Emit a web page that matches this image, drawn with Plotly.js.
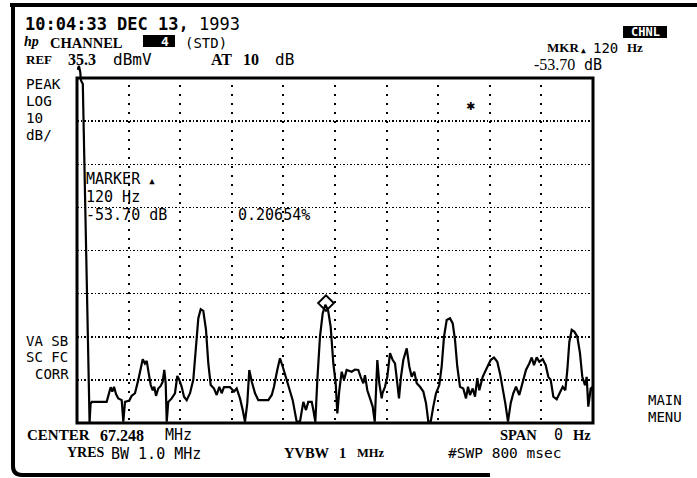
<!DOCTYPE html>
<html><head><meta charset="utf-8">
<script src="https://cdn.plot.ly/plotly-3.0.1.min.js"></script>
<style>html,body{margin:0;padding:0;background:#fff;}#chart{width:697px;height:478px;}</style>
</head><body><div id="chart"></div>
<script>
// Zero-span sweep: time (ms) vs level (dBmV)
const timeMs = [1,3,5,6,9,11,13,16,18,19,
19.5,21,23,46,50.1,52.2,54.7,57.4,60.5,64,
69.3,71.8,74.4,81.1,84.8,89.9,95,98.8,101.9,105.4,
108.1,111.2,114.3,117.4,119.8,122.5,126,129.8,132.9,135.3,
137.5,139.1,141.5,146.8,151.9,155.5,158.6,162.3,165.9,170.1,
175.2,180.3,184.5,188.1,191.8,195.8,200,203.6,207.3,212.4,
216.6,220.6,224.3,227.9,237.2,243.4,247.6,252.7,256.9,260.5,
264,267.1,270.9,276,281.1,296.6,301.9,305.4,310.5,314.7,
318.9,324,329.2,334.4,340.6,345.7,350.9,355,358.6,363.9,
366.4,369.5,372.6,376.7,380.9,385,389.2,393.3,397.4,401.1,
403.6,406.7,410.4,414,418.1,425.9,431,436.1,439.8,443.9,
446.5,450.1,454.3,458.4,461.6,463.6,465.6,468.7,472.4,473.6,
477.5,481.1,485.3,489.5,493,496.6,499.2,502.3,505.9,511.2,
515.2,518.9,522.9,526.7,531.8,536.9,541.1,544.7,548.4,552.4,
556.6,561.7,565.4,569,573.2,578.3,582.5,586.1,589.6,593.8,
598.9,603.1,606.2,609.3,613.5,617.1,620.6,623.7,629,635.2,
641.4,646.5,651.6,655.8,660,664,668.2,672.4,676.4,680.6,
685.7,691,696.1,701.2,705,708.5,712.7,716.8,722,726.7,
730.7,734.4,738.5,743.7,748.8,753,757.1,760.2,763.3,767,
771,775.7,779.8,783.4,787.6,790.2,792.7,796.4,799.5,800];
const levelDbmv = [37.2,38.1,36.7,34.8,33.9,18.6,0.1,-16.2,-34.7,-41.7,
-44.5,-40.3,-39.8,-39.8,-37.8,-36.4,-37.4,-36.3,-38.0,-39.0,
-39.4,-44.4,-39.8,-39.5,-38.4,-37.8,-34.7,-31.6,-29.9,-30.9,
-30.3,-33.2,-35.9,-37.1,-36.3,-38.4,-36.7,-36.1,-35.1,-32.4,
-35.5,-44.4,-39.8,-39.0,-37.8,-33.8,-34.7,-36.3,-38.6,-39.4,
-37.8,-34.7,-26.2,-20.4,-18.3,-18.7,-23.1,-30.9,-35.9,-36.7,
-38.2,-36.3,-37.8,-36.4,-36.4,-37.4,-36.7,-39.0,-41.7,-44.4,
-40.1,-32.4,-35.1,-37.8,-39.4,-39.4,-38.2,-36.3,-32.4,-29.7,
-31.6,-34.0,-36.7,-39.4,-44.4,-44.4,-39.8,-41.7,-39.8,-39.8,
-41.7,-44.4,-34.7,-24.7,-19.3,-17.3,-18.5,-22.4,-30.9,-35.5,
-42.5,-37.1,-32.8,-34.7,-32.4,-32.8,-32.3,-32.4,-34.0,-35.5,
-33.6,-37.1,-39.0,-40.9,-44.4,-34.7,-30.1,-35.5,-39.0,-37.8,
-36.3,-34.0,-28.5,-30.1,-30.9,-35.5,-39.0,-34.0,-30.1,-27.4,
-31.6,-34.0,-32.8,-35.5,-36.3,-37.4,-40.1,-44.4,-44.4,-40.9,
-37.8,-35.9,-31.6,-24.7,-20.8,-20.4,-21.6,-25.5,-31.6,-36.3,
-36.7,-39.0,-36.3,-38.2,-36.7,-38.6,-34.3,-37.1,-34.0,-32.0,
-30.1,-29.5,-30.5,-33.2,-36.3,-40.1,-44.4,-40.1,-37.8,-36.3,
-38.2,-35.5,-32.4,-30.9,-29.5,-31.3,-29.5,-30.5,-29.9,-31.3,
-34.0,-34.7,-38.6,-39.2,-37.8,-36.3,-37.1,-32.4,-25.9,-23.1,
-23.5,-24.7,-28.5,-34.0,-35.9,-34.0,-40.9,-36.7,-36.3,-39.8];
const markerTimeMs = [386];
const markerLevelDbmv = [-16.9];
const refLevel = 35.3;          // dBmV, top graticule
const bottomLevel = -44.7;      // dBmV, bottom graticule (10 dB/div x 8)
const sweepMs = 800;
const xGridTicks = [80,160,240,320,400,480,560,640,720];
const yGridTicks = [25.3,15.3,5.3,-4.7,-14.7,-24.7,-34.7];

// layout geometry (pixels)
const L = 77, R = 593, T = 58, B = 423, BOXTOP = 78;
const px = x => (x - L) / (R - L);
const py = y => (B - y) / (B - T);
const yTop = refLevel + (BOXTOP - T) * (refLevel - bottomLevel) / (B - BOXTOP);

const mono = "DejaVu Sans Mono", serif = "Liberation Serif";
function ann(text, x, y, size, family, extra) {
  return Object.assign({text: text, xref: 'paper', yref: 'paper', x: px(x), y: py(y),
    xanchor: 'left', yanchor: 'middle', showarrow: false, borderpad: 0,
    font: {family: family, size: size, color: 'black'}}, extra || {});
}

const annotations = [
  ann('<b>10:04:33 DEC 13,</b> 1993', 24, 24, 17, mono),
  ann('<b><i>hp</i></b>', 23, 42, 14, serif),
  ann('<b>CHANNEL</b>', 49, 42.5, 14.5, serif),
  ann('<b>4</b>', 160, 42, 13, mono, {font: {family: mono, size: 13, color: 'white'}}),
  ann('(STD)', 184, 42.5, 14, mono),
  ann('<b>REF</b>', 25, 60, 13, serif),
  ann('<b>35.3</b>', 67, 60, 16, serif),
  ann('dBmV', 112, 60, 16, mono),
  ann('<b>AT</b>', 210, 60, 16, serif),
  ann('<b>10</b>', 242, 60, 16, serif),
  ann('dB', 274, 60, 16, mono),
  ann('<b>MKR</b>', 546, 48, 13, serif),
  ann('▲', 580, 50, 8, mono),
  ann('120', 592, 47.5, 14, mono),
  ann('<b>Hz</b>', 626, 48, 13, serif),
  ann('-53.70', 533, 64.5, 16, serif),
  ann('dB', 583, 65, 15, mono),
  ann('<b>CHNL</b>', 645, 32, 12, mono, {xanchor: 'center', font: {family: mono, size: 12, color: 'white'}}),
  ann('✱', 470, 106, 11, 'DejaVu Sans', {xanchor: 'center'}),
  ann('PEAK', 25, 84, 14.3, mono),
  ann('LOG', 25, 101, 14.3, mono),
  ann('10', 25, 118, 14.3, mono),
  ann('dB/', 25, 135, 14.3, mono),
  ann('VA SB', 25, 340.5, 14, mono),
  ann('SC FC', 25, 357, 14, mono),
  ann('CORR', 34, 373.5, 14, mono),
  ann('MARKER <span style="font-size:9px">▲</span>', 85, 179, 15, mono),
  ann('120 Hz', 85, 197, 15, mono),
  ann('-53.70 dB', 85, 215, 15, mono),
  ann('0.20654%', 237, 215, 15, mono),
  ann('MAIN', 647, 400, 14, mono),
  ann('MENU', 647, 417, 14, mono),
  ann('<b>CENTER</b>', 26, 435.5, 15, serif),
  ann('<b>67.248</b>', 99, 435.5, 16, serif),
  ann('MHz', 164, 435, 15, mono),
  ann('<b>SPAN</b>', 499, 435.5, 14.5, serif),
  ann('0', 553, 435, 15, mono),
  ann('<b>Hz</b>', 572, 435.5, 14.5, serif),
  ann('<b>YRES</b>', 66, 453, 14, serif),
  ann('BW 1.0 MHz', 110, 453.5, 15, mono),
  ann('<b>YVBW</b>', 283, 453, 14.5, serif),
  ann('<b>1</b>', 338, 453, 14.5, serif),
  ann('<b>MHz</b>', 356, 453, 12.5, serif),
  ann('#SWP 800 msec', 447, 453, 14.5, mono)
];

const shapes = [
  {type: 'rect', xref: 'x', yref: 'y', x0: 0, x1: sweepMs, y0: refLevel, y1: yTop + 1,
   fillcolor: 'white', line: {width: 0}, layer: 'between'},
  {type: 'rect', xref: 'paper', yref: 'paper', x0: px(89), x1: px(333), y0: py(230), y1: py(167),
   fillcolor: 'white', line: {width: 0}, layer: 'between'},
  {type: 'rect', xref: 'paper', yref: 'paper', x0: 0, x1: 1, y0: 0, y1: py(BOXTOP),
   line: {color: 'black', width: 3}, layer: 'above'},
  {type: 'rect', xref: 'paper', yref: 'paper', x0: px(143), x1: px(175), y0: py(47), y1: py(35),
   fillcolor: 'black', line: {width: 0}, layer: 'below'},
  {type: 'rect', xref: 'paper', yref: 'paper', x0: px(623), x1: px(667), y0: py(38), y1: py(26),
   fillcolor: 'black', line: {width: 0}, layer: 'below'},
  {type: 'line', xref: 'paper', yref: 'paper', x0: px(10), x1: px(697), y0: py(5), y1: py(5),
   line: {color: 'black', width: 4}},
  {type: 'path', xref: 'paper', yref: 'paper',
   path: 'M' + px(13) + ',' + py(4) + ' L' + px(13) + ',' + py(466) +
         ' Q' + px(13) + ',' + py(475) + ' ' + px(22) + ',' + py(475) +
         ' L' + px(490) + ',' + py(475),
   line: {color: 'black', width: 4}}
];

const traces = [
  {type: 'scatter', mode: 'lines', x: timeMs, y: levelDbmv,
   line: {color: 'black', width: 2.2}, hoverinfo: 'skip'},
  {type: 'scatter', mode: 'markers', x: markerTimeMs, y: markerLevelDbmv,
   marker: {symbol: 'diamond-open', size: 12, color: 'black', line: {width: 2, color: 'black'}},
   hoverinfo: 'skip'}
];

const layout = {
  width: 697, height: 478,
  margin: {l: L, r: 697 - R, t: T, b: 478 - B, pad: 0},
  paper_bgcolor: 'white', plot_bgcolor: 'white',
  showlegend: false,
  xaxis: {range: [0, sweepMs], tickvals: xGridTicks, showticklabels: false, ticks: '',
    showgrid: true, gridcolor: 'black', gridwidth: 2, griddash: '2px,7px',
    zeroline: false, showline: false, fixedrange: true},
  yaxis: {range: [bottomLevel, yTop], tickvals: yGridTicks, showticklabels: false, ticks: '',
    showgrid: true, gridcolor: 'black', gridwidth: 1.5, griddash: '1.5px,2px',
    zeroline: false, showline: false, fixedrange: true},
  shapes: shapes,
  annotations: annotations
};

Plotly.newPlot('chart', traces, layout, {staticPlot: true, displayModeBar: false});
</script>
</body></html>
